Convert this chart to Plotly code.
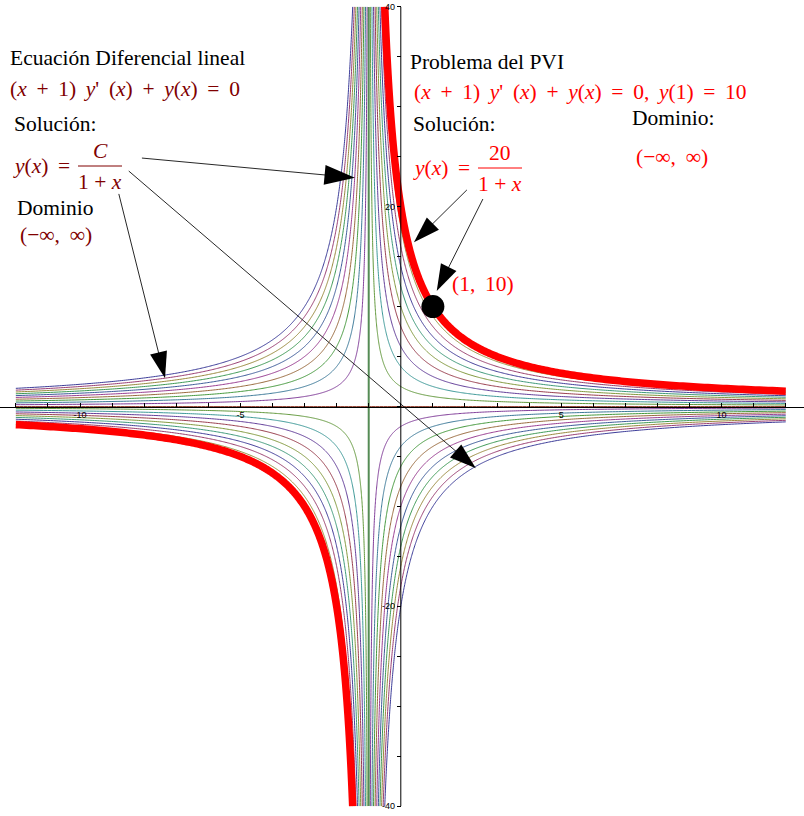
import colorsys
import numpy as np
import plotly.graph_objects as go

# ---------------- data ----------------
C_VALUES = list(range(-20, 21, 2))          # constants of the family y = C/(1+x)
X_MIN, X_MAX = -12, 12                      # plotted domain
Y_CLIP = 40                                 # plot range in y
PVI_C = 20                                  # solution of the IVP: y = 20/(1+x)
PVI_X = [1]
PVI_Y = [10]
X_TICKS = [-10, -5, 5, 10]
Y_TICKS = [-40, -20, 20, 40]
# arrows (data coordinates): tails and heads
ARROW_TAIL_X = [-8.07, -8.48, -8.79, 2.06, 2.56]
ARROW_TAIL_Y = [24.87, 23.57, 21.28, 21.68, 20.77]
ARROW_HEAD_X = [-1.43, 2.34, -7.35, 0.41, 1.12]
ARROW_HEAD_Y = [22.90, -6.19, 2.82, 16.44, 11.56]

# ---------------- style ----------------
W, H = 804, 816
X_RANGE = [-400.8 / 32.08, (W - 400.8) / 32.08]
Y_RANGE = [(406.5 - H) / 9.99, 406.5 / 9.99]
SERIF = "Liberation Serif, Times New Roman, serif"
DARKRED = "rgb(128,0,0)"
RED = "rgb(255,0,0)"
SP = "\u00a0\u2009"   # wider math spacing


def mma_color(k):
    h = (0.667 + 0.236 * k) % 1.0
    r, g, b = colorsys.hsv_to_rgb(h, 0.6, 0.6)
    return f"rgb({int(r*255)},{int(g*255)},{int(b*255)})"


def curve(C, n=400):
    if C == 0:
        xs = np.linspace(X_MIN, X_MAX, 200)
        return xs, np.zeros_like(xs)
    d = abs(C) / Y_CLIP
    xl = -1 - np.geomspace(-1 - X_MIN, d, n)
    xr = -1 + np.geomspace(d, X_MAX + 1, n)
    xs = np.concatenate([xl, [np.nan], xr])
    ys = C / (1 + xs)
    return xs, ys


def math(s):
    return s.replace(" ", SP)


fig = go.Figure()

for k, C in enumerate(C_VALUES):
    xs, ys = curve(C)
    fig.add_trace(go.Scatter(x=xs, y=ys, mode="lines",
                             line=dict(color=mma_color(k), width=1, simplify=False),
                             hoverinfo="skip"))

# vertical asymptote line drawn by the plot
fig.add_trace(go.Scatter(x=[-1, -1], y=[-Y_CLIP, Y_CLIP], mode="lines",
                         line=dict(color="rgb(85,140,85)", width=2), hoverinfo="skip"))

# IVP solution
xs, ys = curve(PVI_C, 300)
fig.add_trace(go.Scatter(x=xs, y=ys, mode="lines",
                         line=dict(color=RED, width=7.5, simplify=False),
                         hoverinfo="skip"))

# y axis line from -40 to 40
fig.add_trace(go.Scatter(x=[0, 0], y=[-Y_CLIP, Y_CLIP], mode="lines",
                         line=dict(color="black", width=1), hoverinfo="skip"))

# point (1,10)
fig.add_trace(go.Scatter(x=PVI_X, y=PVI_Y, mode="markers",
                         marker=dict(color="black", size=23), hoverinfo="skip"))

# arrows
head_sizes = [32, 28, 28, 28, 28]
for i in range(len(ARROW_TAIL_X)):
    fig.add_trace(go.Scatter(
        x=[ARROW_TAIL_X[i], ARROW_HEAD_X[i]], y=[ARROW_TAIL_Y[i], ARROW_HEAD_Y[i]],
        mode="lines+markers",
        line=dict(color="rgb(40,40,40)", width=1),
        marker=dict(symbol="arrow", size=head_sizes[i], angleref="previous",
                    color="black"),
        hoverinfo="skip"))


def px(x):
    return x / W


def py(y):
    return 1 - y / H


texts = [
    # text, x_px, y_px, color, anchor
    ("Ecuación Diferencial lineal", 8, 58, "black", "left"),
    (math("(<i>x</i> + 1) <i>y</i>' (<i>x</i>) + <i>y</i>(<i>x</i>) = 0"), 8, 89, DARKRED, "left"),
    ("Solución:", 12, 124, "black", "left"),
    (math("<i>y</i>(<i>x</i>) ="), 11, 166, DARKRED, "left"),
    ("<i>C</i>", 100, 151, DARKRED, "center"),
    ("1 + <i>x</i>", 100, 182, DARKRED, "center"),
    ("Dominio", 15, 208, "black", "left"),
    (math("(−∞, ∞)"), 18, 235, DARKRED, "left"),
    ("Problema del PVI", 408, 62, "black", "left"),
    (math("(<i>x</i> + 1) <i>y</i>' (<i>x</i>) + <i>y</i>(<i>x</i>) = 0, <i>y</i>(1) = 10"), 412, 92, RED, "left"),
    ("Solución:", 411, 124, "black", "left"),
    ("Dominio:", 630, 118, "black", "left"),
    (math("(−∞, ∞)"), 634, 157, RED, "left"),
    (math("<i>y</i>(<i>x</i>) ="), 411, 168, RED, "left"),
    ("20", 500, 153, RED, "center"),
    ("1 + <i>x</i>", 500, 184, RED, "center"),
    (math("(1, 10)"), 450, 284, RED, "left"),
]
annotations = []
for t, x, y, c, a in texts:
    annotations.append(dict(text=t, x=px(x), y=py(y), xref="paper", yref="paper",
                            xanchor=a, yanchor="middle", showarrow=False,
                            font=dict(family=SERIF, size=21.5, color=c)))

shapes = [
    dict(type="line", xref="paper", yref="paper", x0=px(78), x1=px(122),
         y0=py(166), y1=py(166), line=dict(color=DARKRED, width=1)),
    dict(type="line", xref="paper", yref="paper", x0=px(478), x1=px(522),
         y0=py(168), y1=py(168), line=dict(color=RED, width=1)),
]

fig.update_layout(
    width=W, height=H, margin=dict(l=0, r=0, t=0, b=0),
    paper_bgcolor="white", plot_bgcolor="white", showlegend=False,
    annotations=annotations, shapes=shapes,
    xaxis=dict(range=X_RANGE, anchor="free", position=1 - 406.5 / H,
               showgrid=False, zeroline=False, showline=True, linecolor="black",
               linewidth=1, tickmode="array", tickvals=X_TICKS,
               ticktext=[str(v) for v in X_TICKS],
               ticks="inside", ticklen=4, tickcolor="black",
               minor=dict(tickmode="linear", tick0=0, dtick=1, ticks="inside",
                          ticklen=4, tickcolor="black"),
               tickfont=dict(family="Liberation Sans", size=9, color="black")),
    yaxis=dict(range=Y_RANGE, anchor="free", position=400.8 / W,
               showgrid=False, zeroline=False, showline=False,
               tickmode="array", tickvals=Y_TICKS,
               ticktext=[str(v) for v in Y_TICKS],
               ticks="outside", ticklen=4, tickcolor="black",
               minor=dict(tickmode="linear", tick0=0, dtick=5, ticks="outside",
                          ticklen=4, tickcolor="black"),
               tickfont=dict(family="Liberation Sans", size=9, color="black")),
)

fig.write_html("out.html")
